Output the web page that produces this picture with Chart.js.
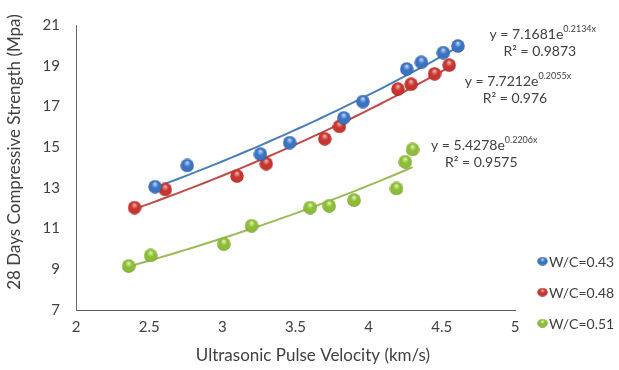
<!DOCTYPE html>
<html>
<head>
<meta charset="utf-8">
<script src="https://cdn.jsdelivr.net/npm/chart.js@4.4.1/dist/chart.umd.min.js"></script>
<style>
  html, body { margin: 0; padding: 0; background: #ffffff; }
  #wrap { width: 619px; height: 370px; }
</style>
</head>
<body>
<div id="wrap"><canvas id="c" width="619" height="370"></canvas></div>
<script>
// Series names (legend)
const seriesNames = ['W/C=0.43', 'W/C=0.48', 'W/C=0.51'];

// Ultrasonic pulse velocity (km/s) and 28-day strength (MPa) per mix
const upv043 = [2.54, 2.76, 3.26, 3.46, 3.83, 3.96, 4.26, 4.36, 4.51, 4.61];
const fc043  = [13.06, 14.10, 14.66, 15.22, 16.44, 17.24, 18.84, 19.17, 19.64, 19.97];

const upv048 = [2.40, 2.61, 3.10, 3.30, 3.70, 3.80, 4.20, 4.29, 4.45, 4.55];
const fc048  = [12.03, 12.92, 13.58, 14.19, 15.41, 16.02, 17.85, 18.09, 18.60, 19.03];

const upv051 = [2.36, 2.51, 3.01, 3.20, 3.60, 3.73, 3.90, 4.19, 4.25, 4.30];
const fc051  = [9.16, 9.68, 10.24, 11.14, 12.03, 12.12, 12.40, 12.97, 14.28, 14.89];

// Exponential trend lines y = a * e^(b x), with their R² values
const trendA  = [7.7212, 7.1681, 5.4278];
const trendB  = [0.2055, 0.2134, 0.2206];
const trendR2 = ['0.976', '0.9873', '0.9575'];

// Axis tick values
const xTicks = [2, 2.5, 3, 3.5, 4, 4.5, 5];
const yTicks = [7, 9, 11, 13, 15, 17, 19, 21];

const FONT = 'Lato, "Open Sans", sans-serif';
const TEXT = '#404040';

const markerColors = [
  { light: '#bcd6f7', base: '#3b73c4', dark: '#1d3f78' },
  { light: '#f3b3ad', base: '#c8352f', dark: '#7c1714' },
  { light: '#e2f4b8', base: '#8dbd34', dark: '#4f7216' }
];
const lineColors = ['#4a7ebb', '#be4b48', '#9bbb59'];

// glossy sphere marker drawn on a small canvas
function sphere(c, w, h) {
  const cv = document.createElement('canvas');
  cv.width = w; cv.height = h;
  const g = cv.getContext('2d');
  const rx = w / 2, ry = h / 2;
  g.save();
  g.translate(rx, ry);
  g.scale(1, ry / rx);
  const grad = g.createRadialGradient(0, -rx * 0.45, rx * 0.05, 0, 0, rx);
  grad.addColorStop(0, c.light);
  grad.addColorStop(0.45, c.base);
  grad.addColorStop(0.85, c.base);
  grad.addColorStop(1, c.dark);
  g.fillStyle = grad;
  g.beginPath();
  g.arc(0, 0, rx - 0.3, 0, Math.PI * 2);
  g.fill();
  g.restore();
  return cv;
}

const seriesX = [upv043, upv048, upv051];
const seriesY = [fc043, fc048, fc051];

const pointDatasets = seriesX.map((xs, i) => ({
  type: 'scatter',
  label: seriesNames[i],
  data: xs.map((x, k) => ({ x: x, y: seriesY[i][k] })),
  pointStyle: sphere(markerColors[i], 14, 14),
  pointRadius: 7,
  pointHoverRadius: 7,
  order: 1
}));

// trend curves span each series' own velocity range
const trendDatasets = seriesX.map((xs, i) => {
  const lo = Math.min(...xs), hi = Math.max(...xs);
  const pts = [];
  const n = 40;
  for (let k = 0; k <= n; k++) {
    const x = lo + (hi - lo) * k / n;
    pts.push({ x: x, y: trendA[i] * Math.exp(trendB[i] * x) });
  }
  return {
    type: 'line',
    label: 'trend ' + seriesNames[i],
    data: pts,
    borderColor: lineColors[i],
    borderWidth: 2,
    pointRadius: 0,
    fill: false,
    tension: 0,
    order: 2
  };
});

// equation labels, anchored in data space (centre of the two-line block)
const eqAnchors = [
  { x: 5.02, y: 17.82 },
  { x: 5.19, y: 20.15 },
  { x: 4.79, y: 14.68 }
];

function drawSup(ctx, cx, cy, base, sup, size) {
  ctx.font = size + 'px ' + FONT;
  const w1 = ctx.measureText(base).width;
  const supSize = Math.round(size * 0.66);
  ctx.font = supSize + 'px ' + FONT;
  const w2 = ctx.measureText(sup).width;
  const x0 = cx - (w1 + w2) / 2;
  ctx.textAlign = 'left';
  ctx.textBaseline = 'middle';
  ctx.font = size + 'px ' + FONT;
  ctx.fillText(base, x0, cy);
  ctx.font = supSize + 'px ' + FONT;
  ctx.fillText(sup, x0 + w1, cy - size * 0.38);
}

const annotations = {
  id: 'annotations',
  afterDraw(chart) {
    const ctx = chart.ctx;
    const xs = chart.scales.x, ys = chart.scales.y;
    ctx.save();
    ctx.fillStyle = TEXT;
    // trend equations
    trendA.forEach((a, i) => {
      const cx = xs.getPixelForValue(eqAnchors[i].x);
      const cy = ys.getPixelForValue(eqAnchors[i].y);
      drawSup(ctx, cx, cy - 8, 'y = ' + a.toFixed(4) + 'e', trendB[i].toFixed(4) + 'x', 14);
      ctx.font = '14px ' + FONT;
      ctx.textAlign = 'center';
      ctx.textBaseline = 'middle';
      ctx.fillText('R\u00B2 = ' + trendR2[i], cx - 3, cy + 9);
    });
    // legend
    const legendTop = ys.getPixelForValue(9.4);
    seriesNames.forEach((name, i) => {
      const y = legendTop + i * 31;
      const img = sphere(markerColors[i], 11, 9);
      ctx.drawImage(img, 537, y - 4.5);
      ctx.font = '14px ' + FONT;
      ctx.textAlign = 'left';
      ctx.textBaseline = 'middle';
      ctx.fillStyle = TEXT;
      ctx.fillText(name, 549, y + 1);
    });
    // axis titles
    ctx.font = '17px ' + FONT;
    ctx.textAlign = 'center';
    ctx.textBaseline = 'middle';
    ctx.fillText('Ultrasonic Pulse Velocity (km/s)', 313, 356);
    ctx.translate(15, 152);
    ctx.rotate(-Math.PI / 2);
    ctx.fillText('28 Days Compressive Strength (Mpa)', 0, 0);
    ctx.restore();
  }
};

new Chart(document.getElementById('c'), {
  data: { datasets: [...pointDatasets, ...trendDatasets] },
  options: {
    responsive: false,
    animation: false,
    devicePixelRatio: 1,
    layout: { padding: { top: 12, right: 104, left: 0, bottom: 0 } },
    plugins: {
      legend: { display: false },
      tooltip: { enabled: false }
    },
    scales: {
      x: {
        type: 'linear',
        min: 2, max: 5,
        afterBuildTicks: s => { s.ticks = xTicks.map(v => ({ value: v })); },
        afterFit: s => { s.height = 60; },
        ticks: {
          callback: v => String(v),
          color: TEXT,
          font: { family: FONT, size: 15 },
          padding: 8,
          maxRotation: 0
        },
        grid: { display: false, drawTicks: false },
        border: { display: true, color: '#595959', width: 1 }
      },
      y: {
        type: 'linear',
        min: 7, max: 21,
        afterBuildTicks: s => { s.ticks = yTicks.map(v => ({ value: v })); },
        afterFit: s => { s.width = 76; },
        ticks: {
          callback: v => String(v),
          color: TEXT,
          font: { family: FONT, size: 15 },
          padding: 16
        },
        grid: { display: false, drawTicks: false },
        border: { display: true, color: '#6b6b6b', width: 1 }
      }
    }
  },
  plugins: [annotations]
});
</script>
</body>
</html>
